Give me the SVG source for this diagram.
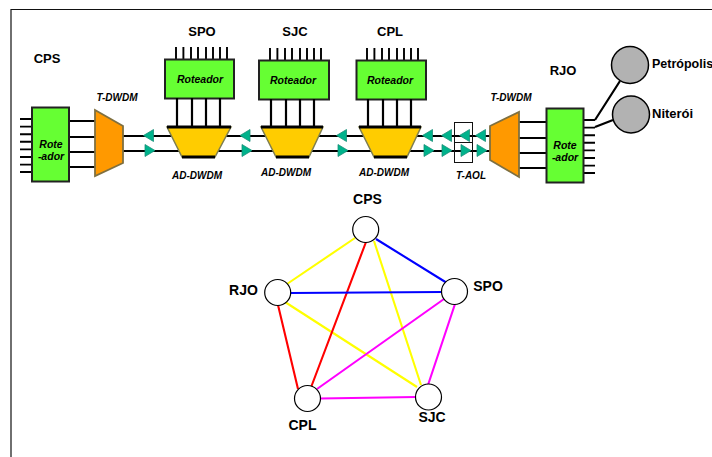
<svg xmlns="http://www.w3.org/2000/svg" width="712" height="457" viewBox="0 0 712 457">
<style>
text{font-family:"Liberation Sans",Arial,sans-serif;font-weight:bold;fill:#000}
.l{font-size:13px;text-anchor:middle}
.b{font-size:14px;text-anchor:middle}
.i{font-size:10px;font-style:italic;text-anchor:middle}
.r{font-size:10.500px;font-style:italic;text-anchor:middle}
.box{fill:#66ff33;stroke:#222;stroke-width:2}
.w{stroke:#000;stroke-width:1.900;fill:none}
.k{stroke:#000;stroke-width:2.200;fill:none}
.mux{fill:#ffcc00;stroke:#7f7f50;stroke-width:1.500}
.bar{stroke:#000;stroke-width:3}
.td{fill:#ff9900;stroke:#7f7040;stroke-width:1.800}
.tri{fill:#00b38c;stroke:#1a8f78;stroke-width:.8}
.g{fill:#b2b2b2;stroke:#000;stroke-width:1.500}
.n{fill:#fff;stroke:#000;stroke-width:1.200}
.e{stroke-width:2.100;fill:none}
</style>
<defs>
<polygon id="tl" class="tri" points="0,-6 0,6 -10,0"/>
<polygon id="tr" class="tri" points="0,-6 0,6 10,0"/>
<path id="stubsH" d="M0 0H12M0 7.600H12M0 15.200H12M0 22.800H12M0 30.400H12M0 38H12M0 45.600H12M0 53H12" class="w"/>
<path id="stubsV" d="M0 0V-12M7.400 0V-12M15 0V-12M22 0V-12M30 0V-12M37 0V-12M44 0V-12M51 0V-12" class="w"/>
<path id="links" d="M0 0V29M15 0V29M29 0V29M43 0V29" class="k"/>
</defs>
<path d="M11 457V9.500H712" fill="none" stroke="#111" stroke-width="1.200"/>
<g id="connectors">
<path class="k" d="M123 136H490M123 151H490"/>
<path class="k" d="M69 121H95M69 137H95M69 152H95M69 167H95"/>
<path class="k" d="M519 122H546M519 138H546M519 153H546M519 168H546"/>
<path class="k" d="M595 120L620 81M595 127L613 120"/>
<g class="e">
<path stroke="#ffff00" d="M355 238L287 284M285 302L417 387M374 241L421 385"/>
<path stroke="#ff0000" d="M366 242L307 398M278 305L298 389"/>
<path stroke="#0000ff" d="M376 239L447 283M290 293L442 292"/>
<path stroke="#ff00ff" d="M444 299L317 389M455 304L428 385M320 398.500L416 397"/>
</g>
<use href="#tl" x="153.500" y="135.500"/><use href="#tr" x="145" y="150.500"/>
<use href="#tl" x="250" y="135.500"/><use href="#tr" x="242" y="150.500"/>
<use href="#tl" x="346.500" y="135.500"/><use href="#tr" x="338" y="150.500"/>
<use href="#tl" x="432.500" y="135.500"/><use href="#tr" x="424" y="150.500"/>
<use href="#tl" x="451.500" y="135.500"/><use href="#tr" x="442" y="150.500"/>
<use href="#tl" x="469.500" y="135.500"/><use href="#tr" x="461" y="150.500"/>
<use href="#tl" x="485.500" y="135.500"/><use href="#tr" x="477" y="150.500"/>
</g>
<g id="t-aol"><rect x="454.500" y="122.500" width="18" height="40" fill="none" stroke="#111"/><path d="M454.500 142.500H472.500" stroke="#111"/><text class="i" x="471" y="179">T-AOL</text></g>
<g id="router-cps"><use href="#stubsH" x="20" y="119"/><rect class="box" x="32" y="107.500" width="37" height="74"/><text class="r" x="51" y="148">Rote</text><text class="r" x="51" y="160">-ador</text></g>
<g id="tdwdm-left"><polygon class="td" points="95,110 123,126 123,163 95,176"/><text class="i" x="117" y="101">T-DWDM</text></g>
<g id="router-spo"><use href="#stubsV" x="176" y="59"/><rect class="box" x="165" y="59.500" width="69" height="39"/><text class="r" x="200" y="83">Roteador</text><use href="#links" x="177" y="98"/></g>
<g id="mux-spo"><polygon class="mux" points="167,127 231,127 215,157 182,157"/><path class="bar" d="M167 127H231M182 157H215"/><text class="i" x="197" y="179">AD-DWDM</text></g>
<g id="router-sjc"><use href="#stubsV" x="270" y="60"/><rect class="box" x="259" y="60.500" width="70" height="39"/><text class="r" x="293" y="84">Roteador</text><use href="#links" x="271" y="99"/></g>
<g id="mux-sjc"><polygon class="mux" points="261,127 323,127 309,157 276,157"/><path class="bar" d="M261 127H323M276 157H309"/><text class="i" x="286" y="176">AD-DWDM</text></g>
<g id="router-cpl"><use href="#stubsV" x="367" y="60"/><rect class="box" x="356.500" y="60.500" width="69.500" height="39"/><text class="r" x="390" y="84">Roteador</text><use href="#links" x="368" y="99"/></g>
<g id="mux-cpl"><polygon class="mux" points="359,127 421,127 407,157 374,157"/><path class="bar" d="M359 127H421M374 157H407"/><text class="i" x="384" y="176">AD-DWDM</text></g>
<g id="tdwdm-right"><polygon class="td" points="490,126 519,112 519,177 490,160"/><text class="i" x="511" y="101">T-DWDM</text></g>
<g id="router-rjo"><use href="#stubsH" x="583" y="120"/><rect class="box" x="546.500" y="108.500" width="37" height="74"/><text class="r" x="565" y="149">Rote</text><text class="r" x="565" y="161">-ador</text></g>
<g id="petropolis"><circle class="g" cx="630" cy="65" r="18.500"/><text x="652" y="68" style="font-size:12.500px">Petrópolis</text></g>
<g id="niteroi"><circle class="g" cx="631" cy="114.500" r="18.500"/><text class="l" x="652" y="118" style="text-anchor:start">Niterói</text></g>
<text class="l" x="47" y="63">CPS</text>
<text class="l" x="202" y="36">SPO</text>
<text class="l" x="295" y="36">SJC</text>
<text class="l" x="390" y="36">CPL</text>
<text class="l" x="563" y="75">RJO</text>
<g id="node-cps"><circle class="n" cx="365.700" cy="229.500" r="13"/><text class="b" x="367.500" y="204">CPS</text></g>
<g id="node-rjo"><circle class="n" cx="277.700" cy="292.500" r="13"/><text class="b" x="243.500" y="295">RJO</text></g>
<g id="node-spo"><circle class="n" cx="454.500" cy="291.500" r="13"/><text class="b" x="488" y="291">SPO</text></g>
<g id="node-cpl"><circle class="n" cx="307.500" cy="398.500" r="13"/><text class="b" x="302.500" y="430">CPL</text></g>
<g id="node-sjc"><circle class="n" cx="428.500" cy="397" r="13"/><text class="b" x="432" y="422">SJC</text></g>
</svg>
